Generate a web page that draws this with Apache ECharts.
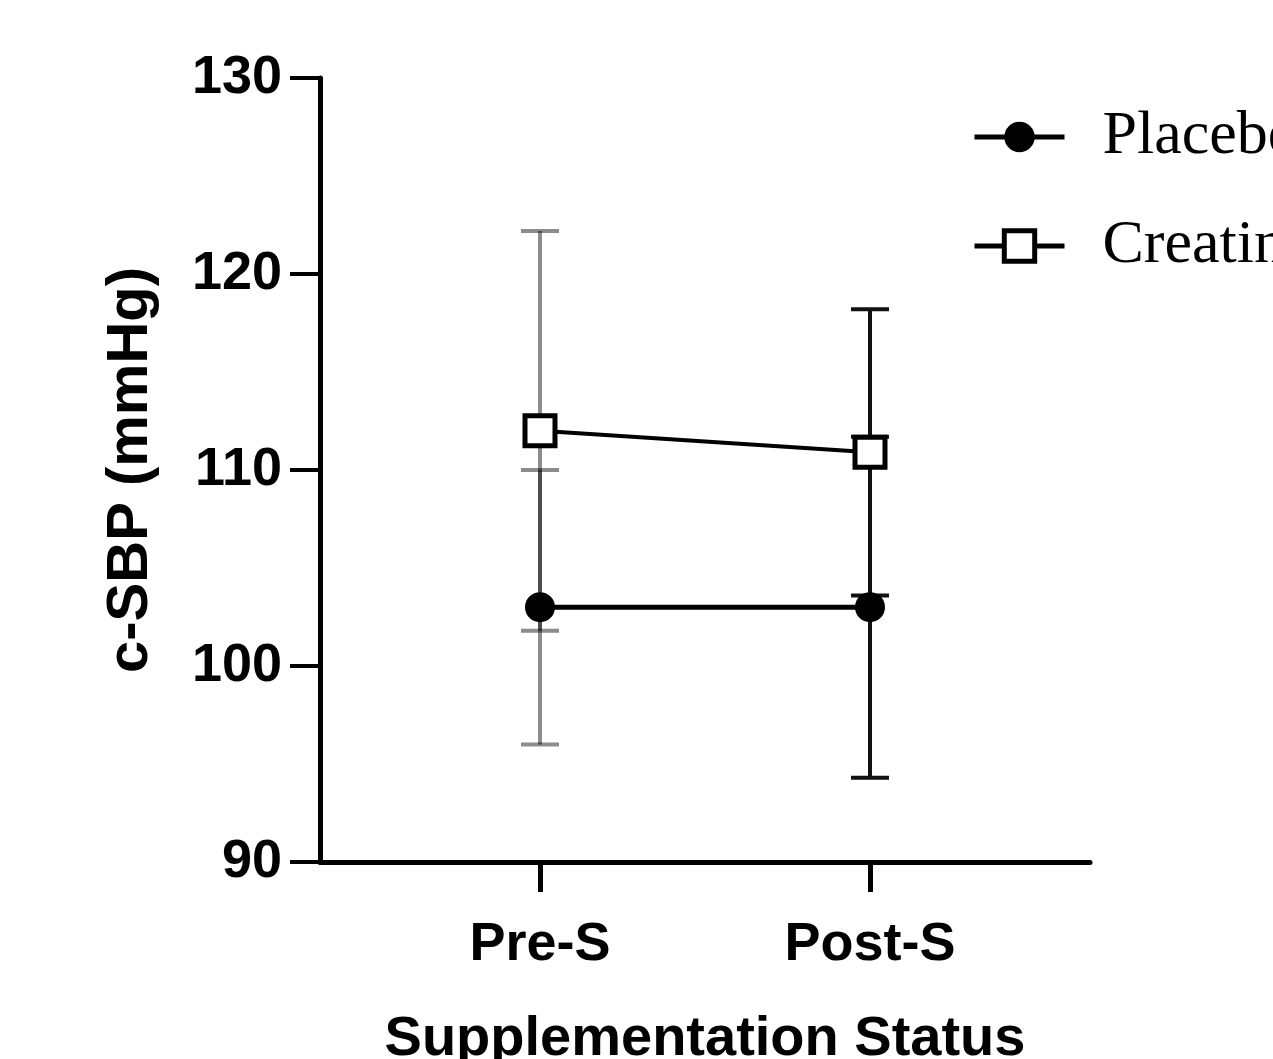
<!DOCTYPE html>
<html>
<head>
<meta charset="utf-8">
<script src="https://cdn.jsdelivr.net/npm/echarts@6/dist/echarts.min.js"></script>
<style>
  html, body { margin: 0; padding: 0; background: #fff; }
  #chart { width: 1273px; height: 1059px; }
</style>
</head>
<body>
<div id="chart"></div>
<script>
const categories = ['Pre-S', 'Post-S']
const slotIndex = [2, 5] // where each category sits on the 8-slot x axis
const seriesNames = ['Placebo', 'Creatine']
const placeboMean = [103, 103]
const placeboSD = [7, 8.7]
const creatineMean = [112, 110.9]
const creatineSD = [10.2, 7.3]
const yTicks = [90, 100, 110, 120, 130]

// axis slots, only two of them labelled
const axisData = []
for (let i = 0; i < 8; i++) axisData.push('')
for (let i = 0; i < categories.length; i++) axisData[slotIndex[i]] = categories[i]

const lineData = means => means.map((v, i) => [slotIndex[i], v])
const errData = (means, sds) => means.map((v, i) => [slotIndex[i], v - sds[i], v + sds[i]])

const axisFont = {
    fontFamily: 'Liberation Sans, Arial, sans-serif',
    fontWeight: 'bold',
    fontSize: 54,
    color: '#000',
}

function errorBar(params, api) {
    const x = api.value(0)
    const top = api.coord([x, api.value(2)])
    const bot = api.coord([x, api.value(1)])
    const half = 19
    // pre-S bars look grey in the figure, post-S ones black
    const color = params.dataIndex === 0 ? 'rgba(0,0,0,0.45)' : '#111'
    const style = { stroke: color, lineWidth: 4 }
    return {
        type: 'group',
        children: [
            { type: 'line', shape: { x1: top[0], y1: top[1], x2: bot[0], y2: bot[1] }, style },
            { type: 'line', shape: { x1: top[0] - half, y1: top[1], x2: top[0] + half, y2: top[1] }, style },
            { type: 'line', shape: { x1: bot[0] - half, y1: bot[1], x2: bot[0] + half, y2: bot[1] }, style },
        ],
    }
}

const chart = echarts.init(document.getElementById('chart'))
chart.setOption({
    animation: false,
    backgroundColor: '#fff',
    grid: {
        left: 320,
        right: 183,
        top: 78,
        bottom: 197,
        outerBoundsMode: 'none',
    },
    legend: {
        left: 972,
        top: 106,
        padding: 0,
        orient: 'vertical',
        itemWidth: 90,
        itemHeight: 38,
        itemGap: 47,
        lineStyle: { width: 5, color: '#000' },
        data: [
            { name: seriesNames[0], itemStyle: { color: '#000' } },
            { name: seriesNames[1], itemStyle: { color: '#fff', borderColor: '#000', borderWidth: 5 } },
        ],
        textStyle: {
            fontFamily: 'Liberation Serif, Times New Roman, serif',
            fontSize: 62,
            lineHeight: 62,
            color: '#000',
            padding: [0, 0, 0, 33],
        },
    },
    xAxis: {
        type: 'category',
        boundaryGap: false,
        data: axisData,
        name: 'Supplementation Status',
        nameLocation: 'middle',
        nameGap: 150,
        nameTextStyle: Object.assign({}, axisFont, { fontSize: 56, letterSpacing: -1 }),
        axisLine: { lineStyle: { color: '#000', width: 5 } },
        axisTick: {
            length: 30,
            interval: i => slotIndex.indexOf(i) >= 0,
            lineStyle: { color: '#000', width: 5 },
        },
        axisLabel: Object.assign({}, axisFont, {
            margin: 56,
            letterSpacing: -3,
            interval: i => slotIndex.indexOf(i) >= 0,
        }),
        splitLine: { show: false },
    },
    yAxis: {
        type: 'value',
        min: yTicks[0],
        max: yTicks[yTicks.length - 1],
        interval: 10,
        name: 'c-SBP (mmHg)',
        nameLocation: 'middle',
        nameGap: 160,
        nameTextStyle: Object.assign({}, axisFont, { fontSize: 58, letterSpacing: -1 }),
        axisLine: { show: true, lineStyle: { color: '#000', width: 5 } },
        axisTick: { show: true, length: 30, lineStyle: { color: '#000', width: 4 } },
        axisLabel: Object.assign({}, axisFont, { margin: 38, letterSpacing: -3 }),
        splitLine: { show: false },
    },
    series: [
        {
            name: 'Placebo-err',
            type: 'custom',
            renderItem: errorBar,
            data: errData(placeboMean, placeboSD),
            z: 1,
        },
        {
            name: 'Creatine-err',
            type: 'custom',
            renderItem: errorBar,
            data: errData(creatineMean, creatineSD),
            z: 1,
        },
        {
            name: seriesNames[0],
            type: 'line',
            data: lineData(placeboMean),
            symbol: 'circle',
            symbolSize: 30,
            itemStyle: { color: '#000' },
            lineStyle: { color: '#000', width: 5 },
            z: 3,
        },
        {
            name: seriesNames[1],
            type: 'line',
            data: lineData(creatineMean),
            symbol: 'rect',
            symbolSize: 30,
            itemStyle: { color: '#fff', borderColor: '#000', borderWidth: 5 },
            lineStyle: { color: '#000', width: 4 },
            z: 4,
        },
    ],
})
</script>
</body>
</html>
